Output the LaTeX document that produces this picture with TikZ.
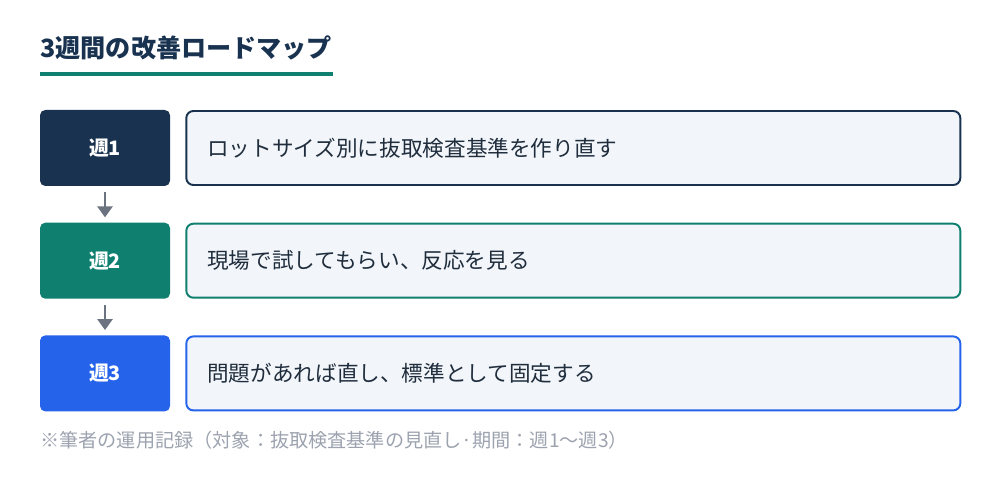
\documentclass[tikz,border=0pt]{standalone}
\usepackage{fontspec}
\setmainfont{Noto Sans CJK JP}
\usepackage{tikz}
\usetikzlibrary{arrows.meta, positioning}
\definecolor{navy}{HTML}{183250}
\definecolor{teal}{HTML}{0F8070}
\definecolor{brightblue}{HTML}{2563EB}
\definecolor{panel}{HTML}{F2F5F9}
\definecolor{arrowgray}{HTML}{6B7280}
\definecolor{notegray}{HTML}{9CA3AF}
\definecolor{inktext}{HTML}{1F2D3D}

\begin{document}
\begin{tikzpicture}[
    week/.style={rounded corners=3pt, minimum width=2.6cm, minimum height=1.52cm, inner sep=0, text=white, font=\bfseries\fontsize{11.3}{13}\selectfont},
    task/.style={draw, line width=1.1pt, rounded corners=4pt, fill=panel, minimum height=1.48cm, text width=14.64cm, inner xsep=0.42cm, align=left, text=inktext, font=\fontsize{12.3}{14}\selectfont},
    flow/.style={draw=arrowgray, line width=1.6pt, -{Triangle[width=0.3cm,length=0.22cm]}, shorten <=0.12cm, shorten >=0.1cm}
  ]
    \useasboundingbox (0,0) rectangle (20,-9.88);
    %draws the title and its underline
    \node (title) [anchor=base west, inner sep=0, text=navy, font=\bfseries\fontsize{14.3}{16}\selectfont] at (0.8,-1.16) {3週間の改善ロードマップ};
    \fill [teal] (0.8,-1.434) rectangle (6.66,-1.514);%underline
    %draws the week boxes
    \node (w1) [week, fill=navy] at (2.1,-2.96) {週1};
    \node (w2) [week, fill=teal, below=0.72 of w1] {週2};
    \node (w3) [week, fill=brightblue, below=0.72 of w2] {週3};
    %draws the task boxes beside them
    \node (t1) [task, draw=navy, right=0.3 of w1] {ロットサイズ別に抜取検査基準を作り直す};
    \node (t2) [task, draw=teal, right=0.3 of w2] {現場で試してもらい、反応を見る};
    \node (t3) [task, draw=brightblue, right=0.3 of w3] {問題があれば直し、標準として固定する};
    %arrows between the weeks
    \draw [flow] (w1) -- (w2);
    \draw [flow] (w2) -- (w3);
    %footnote
    \node (note) [anchor=base west, inner sep=0, text=notegray, font=\fontsize{10.9}{12}\selectfont] at (0.8,-8.94) {※筆者の運用記録（対象：抜取検査基準の見直し·期間：週1〜週3）};
  \end{tikzpicture}
\end{document}
